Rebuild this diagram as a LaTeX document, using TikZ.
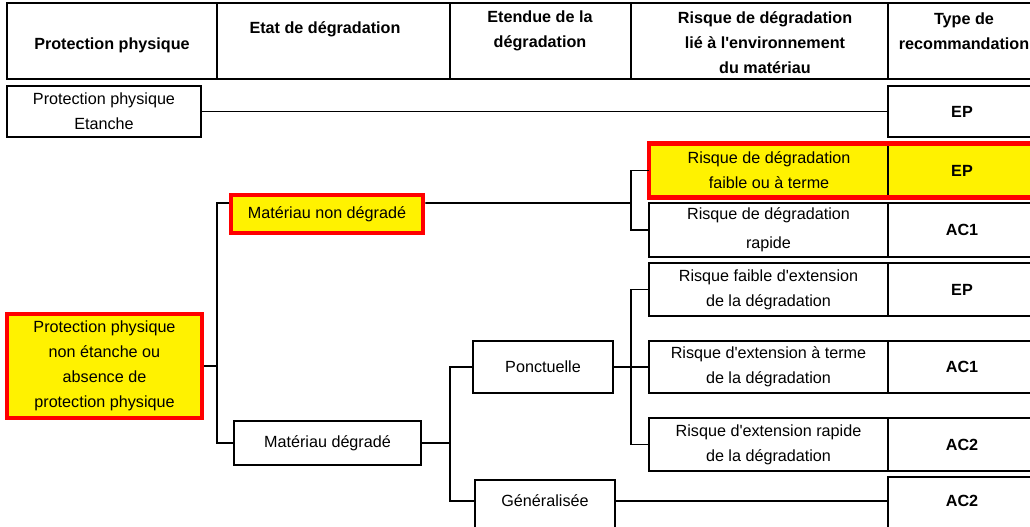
\documentclass[tikz,border=0pt]{standalone}
\usepackage{fontspec}
\setmainfont{Liberation Sans}
\newcommand{\diagfont}{\fontsize{11.5}{17.8}\selectfont}

\begin{document}
\begin{tikzpicture}
  [x=0.025cm,y=-0.025cm,
   every node/.style={font=\diagfont,align=center,inner sep=0pt},
   cell/.style 2 args={draw,line width=1.4pt,minimum width=#1*0.025cm,minimum height=#2*0.025cm},
   head/.style={font=\diagfont\bfseries},
   rec/.style={font=\diagfont\bfseries},
   hot/.style={fill=yellow},
   alert/.style={draw=red,line width=3.5pt},
   link/.style={line width=1.4pt}]
  \useasboundingbox (0,0) rectangle (1030,526);
  \clip (0,0) rectangle (1030,526);
  % header row
  \node[cell={210}{76}] (hprot) at (112,41) {};
  \node[cell={233}{76}] (hetat) at (333.5,41) {};
  \node[cell={181}{76}] (hext) at (540.5,41) {};
  \node[cell={257}{76}] (hrisk) at (759.5,41) {};
  \node[cell={148}{76}] (htype) at (962,41) {};
  \node[head] (tprot) at (112,45) {Protection physique};
  \node[head] (tetat) at (325,29) {Etat de dégradation};
  \node[head] (text) at (540,31) {Etendue de la\\dégradation};
  \node[head] (trisk) at (765,43) {Risque de dégradation\\lié à l\textquotesingle environnement\\du matériau};
  \node[head] (ttype) at (964,31) {Type de\\recommandation};
  % left part
  \node[cell={194}{51}] (etanche) at (104,111.5) {Protection physique\\Etanche};
  \node[cell={148}{51},rec] (recA) at (962,111.5) {EP};
  \node[cell={195}{104},hot,alert] (nonetanche) at (104.5,366)
    {Protection physique\\non étanche ou\\absence de\\protection physique};
  \node[cell={192}{38},hot,alert] (nondeg) at (327,214) {Matériau non dégradé};
  \node[cell={187}{44}] (deg) at (327.5,443) {Matériau dégradé};
  \node[cell={140}{52}] (ponct) at (543,367) {Ponctuelle};
  \node[cell={140}{70}] (gen) at (545,515) {};
  \node (genlbl) at (545,501) {Généralisée};
  % right part
  \node[cell={238}{52},hot] (risk1) at (769,170.5) {Risque de dégradation\\faible ou à terme};
  \node[cell={148}{52},hot,rec] (rec1) at (962,170.5) {EP};
  \draw[alert] (risk1.north west) rectangle (rec1.south east);
  \node[cell={239}{54}] (risk2) at (768.5,230) {Risque de dégradation\\[3pt]rapide};
  \node[cell={148}{54},rec] (rec2) at (962,230) {AC1};
  \node[cell={239}{53}] (risk3) at (768.5,289.5) {Risque faible d\textquotesingle extension\\de la dégradation};
  \node[cell={148}{53},rec] (rec3) at (962,289.5) {EP};
  \node[cell={239}{52}] (risk4) at (768.5,367) {Risque d\textquotesingle extension à terme\\de la dégradation};
  \node[cell={148}{52},rec] (rec4) at (962,367) {AC1};
  \node[cell={239}{53}] (risk5) at (768.5,444.5) {Risque d\textquotesingle extension rapide\\de la dégradation};
  \node[cell={148}{53},rec] (rec5) at (962,444.5) {AC2};
  \node[cell={148}{73}] (rec6) at (962,513.5) {};
  \node[rec] (rec6lbl) at (962,501) {AC2};
  % connectors
  \coordinate (fork1) at (217,366);
  \coordinate (fork2) at (450,443);
  \coordinate (fork3) at (631,203);
  \coordinate (fork4) at (631,367);
  \draw[link] (etanche) -- (recA);
  \draw[link] (nonetanche) -- (fork1);
  \draw[link] ([yshift=.275cm]nondeg.west) -| (fork1) |- (deg);
  \draw[link] (deg) -- (fork2);
  \draw[link] (ponct) -| (fork2) |- (genlbl -| gen.west);
  \draw[link] ([yshift=.275cm]nondeg.east) -- (fork3);
  \draw[link] (risk1) -| (fork3) |- (risk2);
  \draw[link] (ponct) -- (fork4) -- (risk4);
  \draw[link] (risk3) -| (fork4) |- (risk5);
  \draw[link] (genlbl -| gen.east) -- (rec6lbl -| rec6.west);
\end{tikzpicture}
\end{document}
